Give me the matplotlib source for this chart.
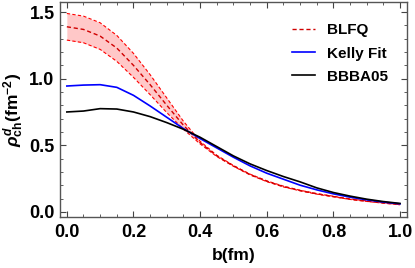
import numpy as np
import matplotlib.pyplot as plt
from matplotlib.ticker import MultipleLocator

plt.rcParams['font.family'] = ['Liberation Sans', 'DejaVu Sans']
plt.rcParams['font.weight'] = 'bold'
plt.rcParams['mathtext.fontset'] = 'custom'
plt.rcParams['mathtext.rm'] = 'Liberation Sans:bold'
plt.rcParams['mathtext.it'] = 'Liberation Sans:bold:italic'
plt.rcParams['mathtext.bf'] = 'Liberation Sans:bold'

b = [0.0, 0.05, 0.1, 0.15, 0.2, 0.25, 0.3, 0.35, 0.4, 0.45, 0.5,
     0.55, 0.6, 0.65, 0.7, 0.75, 0.8, 0.85, 0.9, 0.95, 1.0]

blfq = [1.39, 1.37, 1.32, 1.23, 1.10, 0.955, 0.80, 0.65, 0.52, 0.42, 0.345,
        0.28, 0.23, 0.19, 0.16, 0.135, 0.115, 0.095, 0.08, 0.067, 0.055]
blfq_up = [1.49, 1.47, 1.42, 1.325, 1.19, 1.03, 0.855, 0.68, 0.53, 0.425, 0.348,
           0.283, 0.233, 0.193, 0.162, 0.137, 0.117, 0.097, 0.082, 0.069, 0.057]
blfq_lo = [1.29, 1.27, 1.22, 1.13, 1.01, 0.88, 0.745, 0.62, 0.51, 0.415, 0.342,
           0.277, 0.227, 0.187, 0.158, 0.133, 0.113, 0.093, 0.078, 0.065, 0.053]
kelly = [0.945, 0.952, 0.955, 0.935, 0.875, 0.795, 0.71, 0.625, 0.55, 0.48, 0.41,
         0.345, 0.29, 0.245, 0.20, 0.165, 0.135, 0.11, 0.09, 0.073, 0.06]
bbba05 = [0.75, 0.757, 0.775, 0.772, 0.75, 0.715, 0.67, 0.62, 0.56, 0.49, 0.42,
          0.36, 0.31, 0.265, 0.225, 0.18, 0.145, 0.118, 0.095, 0.077, 0.063]

fig = plt.figure(figsize=(4.15, 2.68), dpi=100)
ax = fig.add_axes([0.145, 0.191, 0.835, 0.801])

ax.fill_between(b, blfq_lo, blfq_up, color='#ffc8c8', lw=0)
ax.plot(b, blfq_up, color='red', lw=0.8, ls=(0, (3, 2)))
ax.plot(b, blfq_lo, color='red', lw=0.8, ls=(0, (3, 2)))
ax.plot(b, blfq, color='#d00000', lw=1.0, ls=(0, (3, 2)), label='BLFQ')
ax.plot(b, kelly, color='blue', lw=1.2, label='Kelly Fit')
ax.plot(b, bbba05, color='black', lw=1.2, label='BBBA05')

ax.set_xlim(-0.02, 1.02)
ax.set_ylim(-0.0375, 1.575)
ax.xaxis.set_major_locator(MultipleLocator(0.2))
ax.xaxis.set_minor_locator(MultipleLocator(0.05))
ax.yaxis.set_major_locator(MultipleLocator(0.5))
ax.yaxis.set_minor_locator(MultipleLocator(0.1))
ax.tick_params(which='both', direction='in', top=True, right=True,
               labelsize=13, color='#444444')
ax.tick_params(axis='x', pad=5)
ax.tick_params(axis='y', pad=4)
ax.tick_params(which='major', length=4)
ax.tick_params(which='minor', length=2)
for s in ax.spines.values():
    s.set_color('#555555')
    s.set_linewidth(1.0)

ax.set_xlabel('b(fm)', fontsize=12.5, fontweight='bold', labelpad=5)
ax.set_ylabel(r'$\rho^{d}_{\rm ch}\rm(fm^{-2})$', fontsize=12.5, labelpad=2)

ax.legend(loc='upper right', bbox_to_anchor=(0.985, 0.965), frameon=False,
          fontsize=11, handlelength=1.5, handletextpad=0.8,
          labelspacing=0.6)

fig.savefig('out.png', dpi=100)
